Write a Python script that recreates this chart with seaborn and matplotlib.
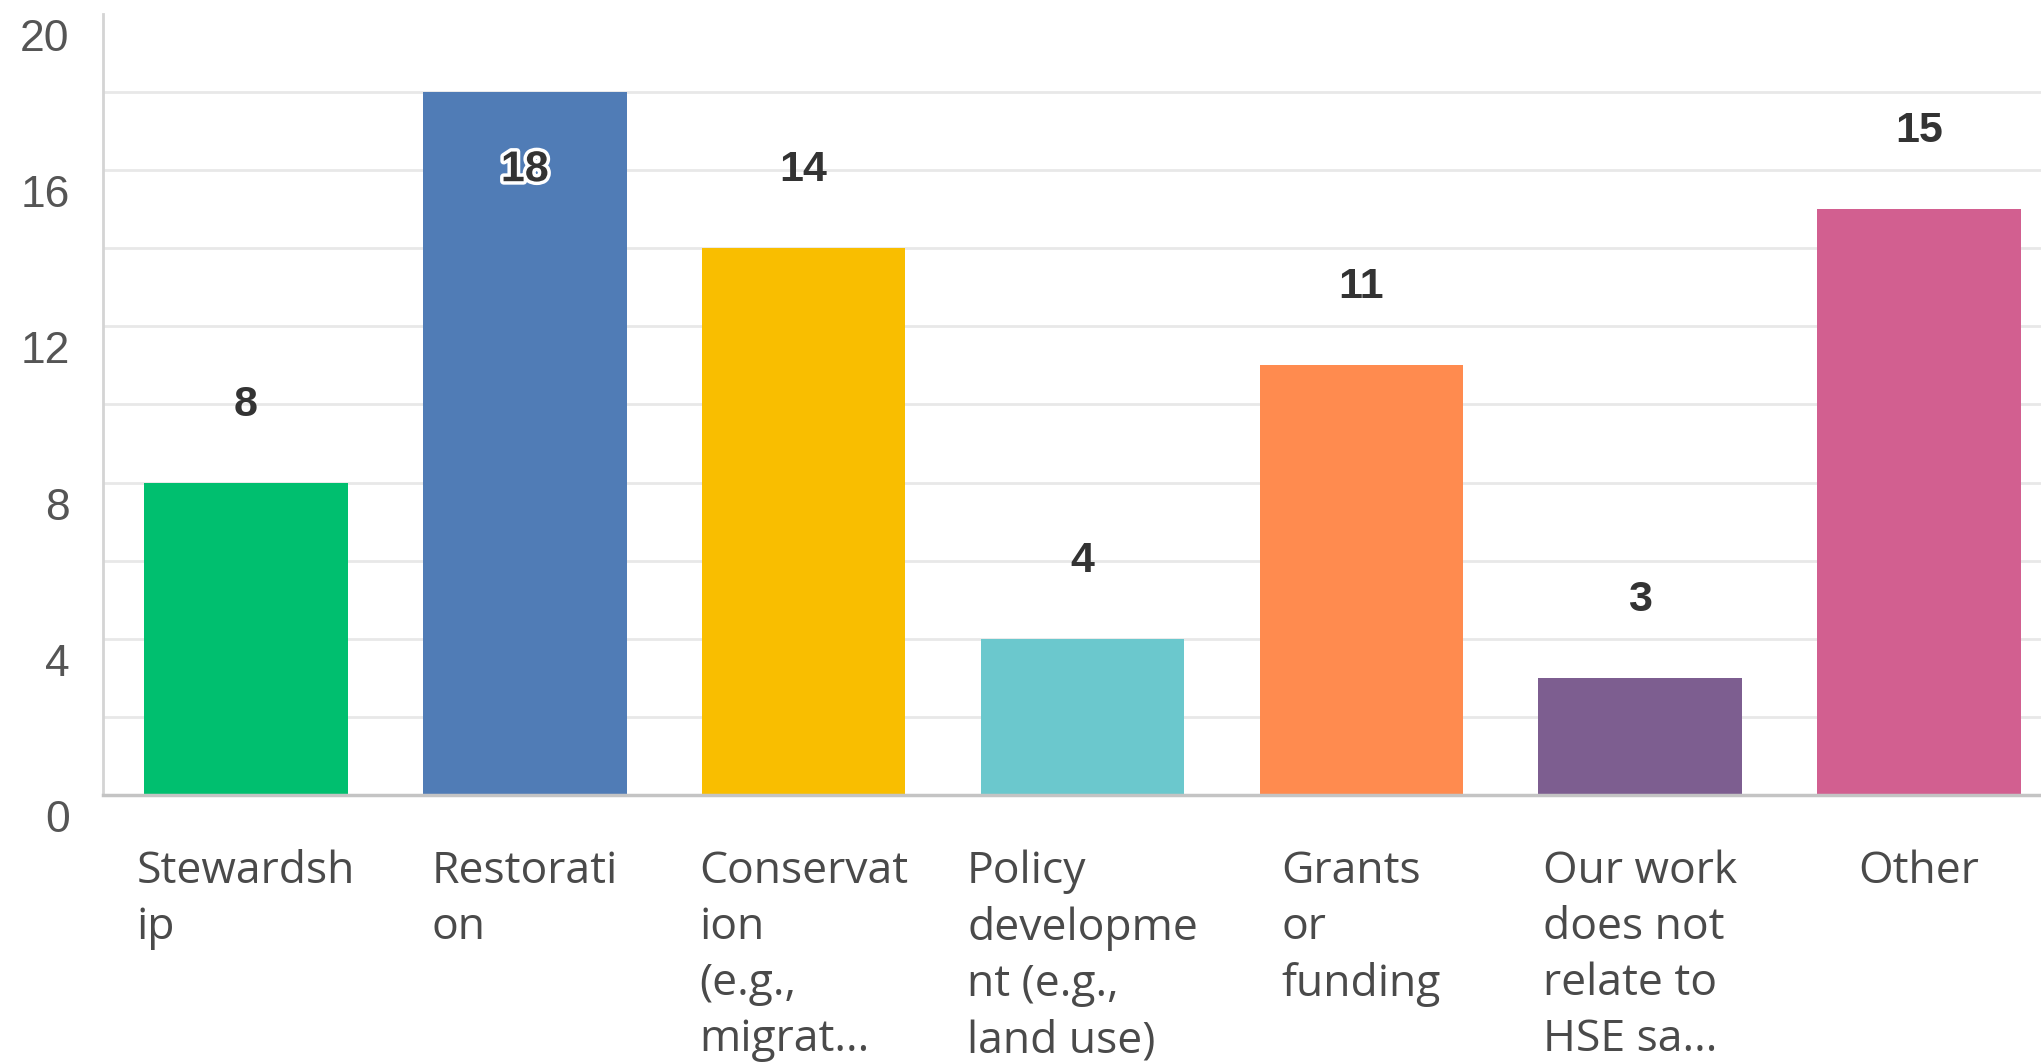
import matplotlib
matplotlib.use("Agg")
import matplotlib.pyplot as plt
from matplotlib.transforms import ScaledTranslation
import matplotlib.patheffects as pe
import seaborn as sns
import pandas as pd

# Survey responses per activity type
categories = [
    "Stewardsh\nip",
    "Restorati\non",
    "Conservat\nion\n(e.g.,\nmigrat...",
    "Policy\ndevelopme\nnt (e.g.,\nland use)",
    "Grants\nor\nfunding",
    "Our work\ndoes not\nrelate to\nHSE sa...",
    "Other",
]
counts = [8, 18, 14, 4, 11, 3, 15]
bar_colors = ["#00BF6F", "#507CB6", "#F9BE00", "#6BC8CD", "#FF8B4F", "#7D5E90", "#D25F90"]
y_major = [0, 4, 8, 12, 16, 20]
y_grid = [2, 4, 6, 8, 10, 12, 14, 16, 18]

sns.set_theme(style="white")
plt.rcParams["font.family"] = ["Liberation Sans", "DejaVu Sans"]

DPI = 100
fig = plt.figure(figsize=(2041 / DPI, 1064 / DPI), dpi=DPI, facecolor="white")
ax = fig.add_axes([103 / 2041, 269 / 1064, 1959 / 2041, 781 / 1064])

df = pd.DataFrame({"category": categories, "count": counts})
sns.barplot(
    data=df, x="category", y="count", hue="category",
    palette=bar_colors, legend=False, width=0.73, saturation=1,
    edgecolor="none", ax=ax, zorder=3,
)

ax.set_xlim(-0.513, 6.513)
ax.set_ylim(0, 20)
ax.set_xlabel("")
ax.set_ylabel("")

# horizontal grid every 2 units
ax.yaxis.remove_overlapping_locs = False
ax.set_yticks(y_grid, minor=True)
ax.grid(which="minor", axis="y", color="#e8e8e8", linewidth=2, zorder=0)
ax.grid(which="major", visible=False)

ax.set_yticks(y_major)
ax.set_yticklabels([str(v) for v in y_major])
ax.tick_params(axis="y", which="both", length=0, pad=24, labelsize=32, labelcolor="#555555")
shift = ScaledTranslation(0, -21 / DPI, fig.dpi_scale_trans)
for lbl in ax.get_yticklabels():
    lbl.set_transform(lbl.get_transform() + shift)

for side in ["top", "right"]:
    ax.spines[side].set_visible(False)
ax.spines["left"].set_color("#d4d4d4")
ax.spines["left"].set_linewidth(2)
ax.spines["bottom"].set_color("#c4c4c4")
ax.spines["bottom"].set_linewidth(2.5)
ax.spines["bottom"].set_zorder(4)

ax.tick_params(axis="x", length=0, pad=39)
for lbl in ax.get_xticklabels():
    lbl.set_fontfamily(["Open Sans", "DejaVu Sans"])
    lbl.set_fontsize(32)
    lbl.set_color("#4a4a4a")
    lbl.set_horizontalalignment("center")
    lbl.set_multialignment("left")
    lbl.set_linespacing(1.35)

# value labels: above the bar, or inside it near the top
for i, v in enumerate(counts):
    if v + 2 <= 18:
        ax.text(i, v + 2, str(v), ha="center", va="center", fontsize=31,
                fontweight="bold", color="#333333", zorder=5)
    else:
        ax.text(i, v - 2, str(v), ha="center", va="center", fontsize=31,
                fontweight="bold", color="#333333", zorder=5,
                path_effects=[pe.withStroke(linewidth=5, foreground="white")])

fig.savefig("out.png", dpi=DPI, facecolor="white")
